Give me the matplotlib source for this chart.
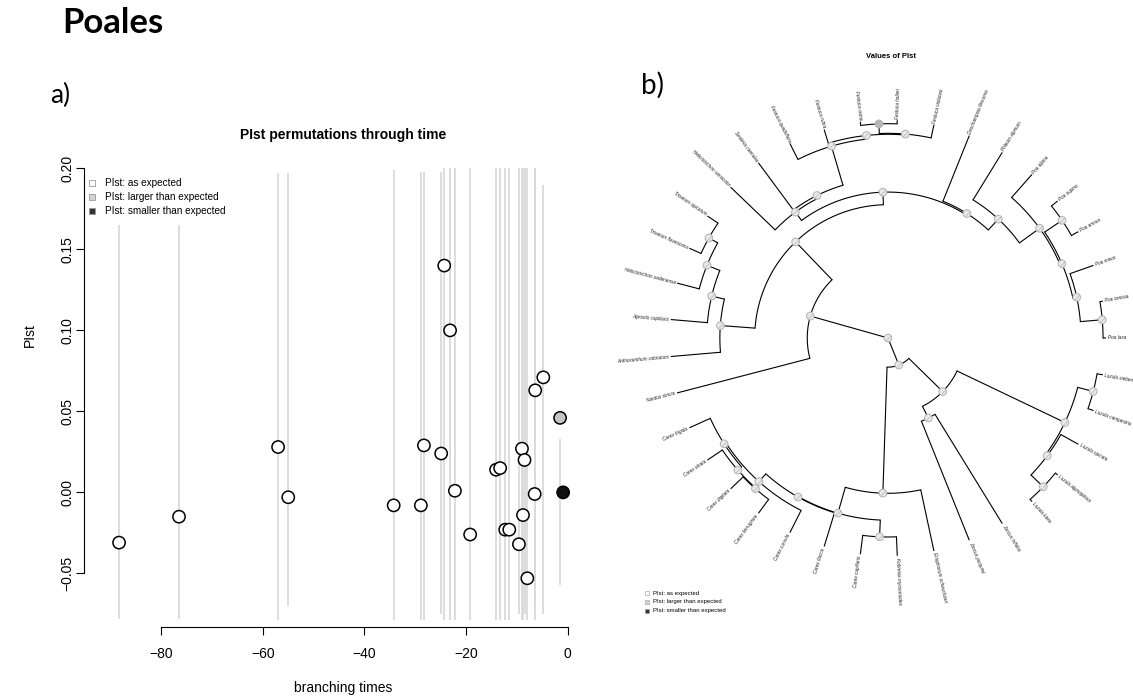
import numpy as np
import matplotlib
matplotlib.use("Agg")
import matplotlib.pyplot as plt
from matplotlib.patches import Rectangle

plt.rcParams["font.family"] = ["Liberation Sans", "DejaVu Sans"]

# ---------------- panel a: PIst of each node through time ----------------
node_times = [-88.3, -76.5, -57.0, -55.0, -34.25, -28.9, -28.3, -24.9, -24.3, -23.15,
              -22.2, -19.2, -14.1, -13.3, -12.3, -11.5, -9.6, -9.0, -8.8, -8.5,
              -7.95, -6.5, -6.4, -4.8, -1.5, -0.9]
pist_observed = [-0.031, -0.015, 0.028, -0.003, -0.008, -0.008, 0.029, 0.024, 0.140, 0.100,
                 0.001, -0.026, 0.014, 0.015, -0.023, -0.023, -0.032, 0.027, -0.014, 0.020,
                 -0.053, -0.001, 0.063, 0.071, 0.046, 0.000]
pist_status = ["as"] * 24 + ["larger", "smaller"]
# spread of the permuted PIst values at each node
perm_low = [-0.078, -0.078, -0.079, -0.070, -0.079, -0.079, -0.079, -0.075, -0.079, -0.079,
            -0.079, -0.079, -0.079, -0.079, -0.079, -0.079, -0.075, -0.079, -0.079, -0.075,
            -0.079, -0.070, -0.079, -0.075, -0.057, -0.004]
perm_high = [0.165, 0.165, 0.197, 0.197, 0.199, 0.198, 0.198, 0.198, 0.200, 0.200,
             0.200, 0.200, 0.200, 0.200, 0.200, 0.200, 0.200, 0.200, 0.200, 0.200,
             0.200, 0.200, 0.200, 0.190, 0.033, 0.004]
x_ticks = [-80, -60, -40, -20, 0]
y_ticks = [-0.05, 0.00, 0.05, 0.10, 0.15, 0.20]
y_tick_labels = ["\u22120.05", "0.00", "0.05", "0.10", "0.15", "0.20"]

# ---------------- panel b: fan phylogeny of the Poales ----------------
root_age = 88.3
clade_names = ["root", "J30", "P20", "P16", "P19", "P18", "P17", "P7", "P6", "P5",
               "P4", "P3", "P2", "P1", "PX", "P8", "P9", "P10", "P12", "P11",
               "P13", "P14", "J31", "J32", "J33", "J34", "J35", "J36", "C28", "C27",
               "C29", "C26", "C25", "C22", "C23", "C24"]
clade_children = [
    ("P20", "J30"),
    ("J31", "C28"),
    ("Nardus stricta", "P16"),
    ("P19", "P6"),
    ("Anthoxanthum odoratum", "P18"),
    ("Agrostis capillaris", "P17"),
    ("Helictotrichon sedenense", "P7"),
    ("Trisetum flavescens", "Trisetum spicatum"),
    ("P5", "P8"),
    ("Helictotrichon versicolor", "P4"),
    ("Sesleria caerulea", "P3"),
    ("Festuca quadriflora", "P2"),
    ("Festuca rubra", "P1"),
    ("PX", "Festuca violacea"),
    ("Festuca ovina", "Festuca halleri"),
    ("Deschampsia flexuosa", "P9"),
    ("Phleum alpinum", "P10"),
    ("Poa alpina", "P12"),
    ("P11", "P13"),
    ("Poa supina", "Poa annua"),
    ("Poa minor", "P14"),
    ("Poa cenisia", "Poa laxa"),
    ("J33", "J32"),
    ("Juncus trifidus", "Juncus jacquinii"),
    ("J34", "J35"),
    ("Luzula sieberi", "Luzula campestris"),
    ("Luzula spicata", "J36"),
    ("Luzula alpinopilosa", "Luzula lutea"),
    ("Eriophorum scheuchzeri", "C27"),
    ("C29", "C26"),
    ("Kobresia myosuroides", "Carex capillaris"),
    ("Carex flacca", "C25"),
    ("Carex curvula", "C22"),
    ("C23", "Carex frigida"),
    ("C24", "Carex atrata"),
    ("Carex ferruginea", "Carex digitata"),
]
clade_ages = [88.3, 76.5, 55.6, 34.3, 20.2, 14.9, 9.3, 5.2, 29.2, 25.0,
              23.8, 7.3, 5.8, 5.4, 1.5, 28.6, 22.6, 12.5, 11.7, 3.2,
              10.1, 1.2, 57.3, 52.0, 8.9, 2.4, 8.1, 1.2, 25.4, 14.5,
              7.7, 14.3, 10.1, 9.3, 7.3, 7.0]
clade_status = ["as"] * len(clade_names)
clade_status[clade_names.index("PX")] = "larger"

# ---------------- figure ----------------
W, H = 1133, 698
fig = plt.figure(figsize=(W / 100, H / 100), dpi=100)


def fx(px):
    return px / W


def fy(py):
    return 1 - py / H


status_fill = {"as": "white", "larger": "#c4c4c4", "smaller": "#111111"}
legend_fill = {"as": "white", "larger": "#d3d3d3", "smaller": "#333333"}
legend_text = {"as": "PIst: as expected",
               "larger": "PIst: larger than expected",
               "smaller": "PIst: smaller than expected"}
status_order = ["as", "larger", "smaller"]

fig.text(fx(62), fy(23), "Poales", fontfamily="Lato", fontweight="bold",
         fontsize=25, ha="left", va="center")
fig.text(fx(50), fy(95), "a)", fontfamily="Lato", fontsize=19, ha="left", va="center")
fig.text(fx(641), fy(85), "b)", fontfamily="Lato", fontsize=20, ha="left", va="center")

# ---- panel a ----
ax = fig.add_axes([fx(84), fy(626.7), (602 - 84) / W, (626.7 - 150.7) / H])
ax.set_xlim(-95.2, 6.75)
ax.set_ylim(-0.0829, 0.2109)
ax.set_facecolor("none")
ax.vlines(node_times, perm_low, perm_high, colors="#dadada", linewidth=1.3, zorder=1)
ax.scatter(node_times, pist_observed, s=78,
           c=[status_fill[s] for s in pist_status],
           edgecolors="black", linewidths=1.1, zorder=3)
for side in ["top", "right"]:
    ax.spines[side].set_visible(False)
ax.spines["left"].set_bounds(-0.05, 0.20)
ax.spines["bottom"].set_bounds(-80, 0)
ax.spines["left"].set_linewidth(0.8)
ax.spines["bottom"].set_linewidth(0.8)
ax.set_xticks(x_ticks)
ax.set_yticks(y_ticks)
ax.set_yticklabels(y_tick_labels, rotation=90, va="center")
ax.tick_params(direction="out", length=5.8, width=0.8, labelsize=10)
ax.tick_params(axis="x", pad=8.5)
ax.tick_params(axis="y", pad=1.0)

fig.text(fx(343), fy(135), "PIst permutations through time", fontsize=10,
         fontweight="bold", ha="center", va="center")
fig.text(fx(343), fy(688), "branching times", fontsize=10, ha="center", va="center")
fig.text(fx(30), fy(335), "PIst", fontsize=10, rotation=90, ha="center", va="center")

for k, st in enumerate(status_order):
    yc = 183.3 + 13.7 * k
    fig.add_artist(Rectangle((fx(88.7), fy(yc + 3)), 6 / W, 6 / H,
                             transform=fig.transFigure, facecolor=legend_fill[st],
                             edgecolor="#9a9a9a", linewidth=0.6))
    fig.text(fx(105), fy(yc), legend_text[st], fontsize=7.2, ha="left", va="center")

# ---- panel b ----
children = dict(zip(clade_names, clade_children))
ages = dict(zip(clade_names, clade_ages))

tips = []


def collect(name):
    if name in children:
        for ch in children[name]:
            collect(ch)
    else:
        tips.append(name)


collect("root")
n_tip = len(tips)
theta = {t: i * 2 * np.pi / n_tip for i, t in enumerate(tips)}
radius = {t: root_age for t in tips}


def place(name):
    if name not in children:
        return theta[name]
    angs = [place(ch) for ch in children[name]]
    theta[name] = float(np.mean(angs))
    radius[name] = root_age - ages[name]
    return theta[name]


place("root")

half = 250
r_max = root_age * half / 218.0
axp = fig.add_axes([fx(888 - half), fy(338 + half), 2 * half / W, 2 * half / H],
                   projection="polar")
axp.set_theta_direction(-1)
offset_deg = 194.6
axp.set_theta_offset(np.deg2rad(offset_deg))
axp.set_ylim(0, r_max)
axp.axis("off")

for name, kids in children.items():
    r0 = radius[name]
    for ch in kids:
        axp.plot([theta[ch], theta[ch]], [r0, radius[ch]], color="black",
                 lw=0.8, solid_capstyle="butt")
    t_arc = np.linspace(theta[kids[0]], theta[kids[-1]], 80)
    axp.plot(t_arc, np.full_like(t_arc, r0), color="black", lw=0.8)

node_t = [theta[n] for n in clade_names]
node_r = [radius[n] for n in clade_names]
node_fill = ["#e9e9e9" if s == "as" else ("#b4b4b4" if s == "larger" else "#222222")
             for s in clade_status]
axp.scatter(node_t, node_r, s=30, c=node_fill, edgecolors="#b8b8b8",
            linewidths=0.8, zorder=4)
axp.scatter(node_t, node_r, s=14, marker=[(-1, -1), (1, 1)], c="#bdbdbd",
            linewidths=0.6, zorder=5)

for t in tips:
    ang = (offset_deg - np.degrees(theta[t])) % 360
    if 90 < ang < 270:
        rot, ha = ang - 180, "right"
    else:
        rot, ha = ang, "left"
    axp.text(theta[t], root_age + 0.7, t, rotation=rot, rotation_mode="anchor",
             ha=ha, va="center", fontsize=3.4, style="italic", color="#222222")

fig.text(fx(891), fy(57), "Values of PIst", fontsize=5.5, fontweight="bold",
         ha="center", va="center")

for k, st in enumerate(status_order):
    yc = 593 + 8.8 * k
    fig.add_artist(Rectangle((fx(645), fy(yc + 2)), 4 / W, 4 / H,
                             transform=fig.transFigure, facecolor=legend_fill[st],
                             edgecolor="#9a9a9a", linewidth=0.4))
    fig.text(fx(653), fy(yc), legend_text[st], fontsize=4.3, ha="left", va="center")

fig.savefig("out.png", dpi=100)
